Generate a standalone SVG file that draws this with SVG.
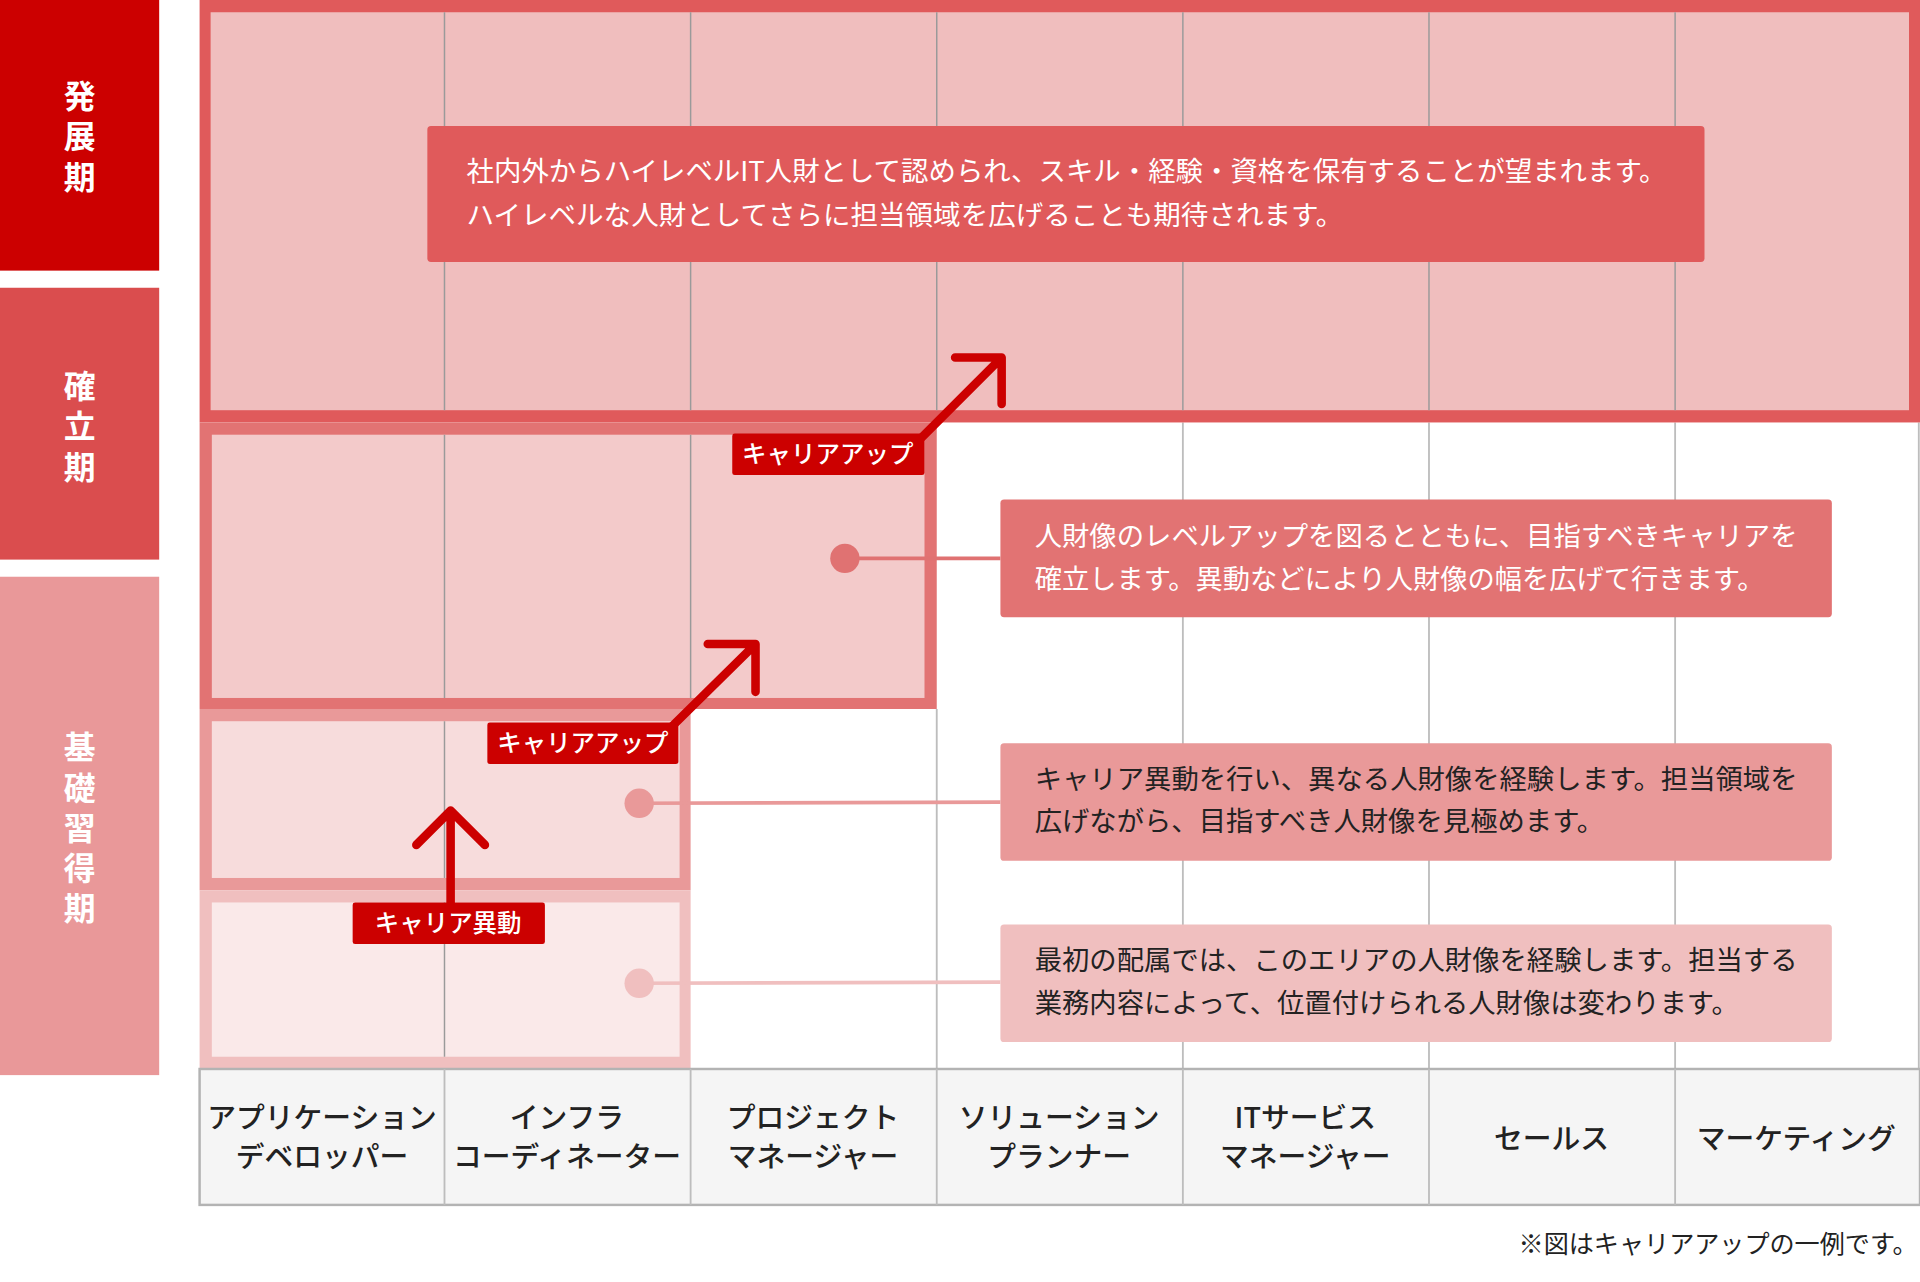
<svg xmlns="http://www.w3.org/2000/svg" width="1920" height="1282" viewBox="0 0 1920 1282">
<style>
text{font-family:"Noto Sans CJK JP","Noto Sans",sans-serif}
.v{fill:#fff;font-size:26px;font-weight:700;text-anchor:middle}
.g{stroke:#9a9a9a;stroke-width:1.2}
.gw{stroke:#bdbdbd;stroke-width:1.5}
.t{font-size:22px}
.h{font-size:23.5px;fill:#222;text-anchor:middle;font-weight:500}
.lab{fill:#cc0000}
.lt{fill:#fff;font-size:20px;font-weight:500;text-anchor:middle}
.ar{fill:none;stroke:#cc0000;stroke-width:7;stroke-linecap:round;stroke-linejoin:round}
</style>
<rect width="1920" height="1282" fill="#fff"/>
<g transform="scale(1.2245)">
<g id="phases">
<rect x="0" y="0" width="130" height="221" fill="#cc0000"/>
<text class="v" x="65" y="88">発</text><text class="v" x="65" y="121">展</text><text class="v" x="65" y="154">期</text>
<rect x="0" y="235" width="130" height="222" fill="#da4d4e"/>
<text class="v" x="65" y="325">確</text><text class="v" x="65" y="358">立</text><text class="v" x="65" y="391">期</text>
<rect x="0" y="471" width="130" height="407" fill="#e99899"/>
<text class="v" x="65" y="620">基</text><text class="v" x="65" y="653">礎</text><text class="v" x="65" y="686">習</text><text class="v" x="65" y="719">得</text><text class="v" x="65" y="751">期</text>
</g>
<g id="grid-white">
<line class="gw" x1="966" y1="345" x2="966" y2="873"/><line class="gw" x1="1167" y1="345" x2="1167" y2="873"/><line class="gw" x1="1368" y1="345" x2="1368" y2="873"/><line class="gw" x1="1567" y1="345" x2="1567" y2="873"/>
<line class="gw" x1="765" y1="579" x2="765" y2="873"/>
</g>
<g id="block-top">
<rect x="163" y="0" width="1405" height="345" fill="#e05a5b"/>
<rect x="172" y="10" width="1387" height="325" fill="#f0bebe"/>
</g>
<g id="block-mid">
<rect x="163" y="345" width="602" height="234" fill="#e27373"/>
<rect x="173" y="355" width="582" height="215" fill="#f3caca"/>
</g>
<g id="block-b2">
<rect x="163" y="579" width="401" height="148" fill="#e99999"/>
<rect x="173" y="589" width="382" height="128" fill="#f7dcdc"/>
</g>
<g id="block-b1">
<rect x="163" y="727" width="401" height="146" fill="#f0bfbf"/>
<rect x="173" y="737" width="382" height="126" fill="#fae9e9"/>
</g>
<g id="grid-in">
<line class="g" x1="363" y1="10" x2="363" y2="335"/><line class="g" x1="564" y1="10" x2="564" y2="335"/><line class="g" x1="765" y1="10" x2="765" y2="335"/><line class="g" x1="966" y1="10" x2="966" y2="335"/><line class="g" x1="1167" y1="10" x2="1167" y2="335"/><line class="g" x1="1368" y1="10" x2="1368" y2="335"/>
<line class="g" x1="363" y1="355" x2="363" y2="570"/><line class="g" x1="564" y1="355" x2="564" y2="570"/>
<line class="g" x1="363" y1="589" x2="363" y2="717"/><line class="g" x1="363" y1="737" x2="363" y2="863"/>
</g>
<g id="header">
<rect x="163" y="873" width="1405" height="111" fill="#f5f5f5" stroke="#b3b3b3" stroke-width="2"/>
<line class="gw" x1="363" y1="873" x2="363" y2="984"/><line class="gw" x1="564" y1="873" x2="564" y2="984"/><line class="gw" x1="765" y1="873" x2="765" y2="984"/><line class="gw" x1="966" y1="873" x2="966" y2="984"/><line class="gw" x1="1167" y1="873" x2="1167" y2="984"/><line class="gw" x1="1368" y1="873" x2="1368" y2="984"/>
<text class="h" x="263" y="921">アプリケーション</text><text class="h" x="263" y="953">デベロッパー</text>
<text class="h" x="463" y="921">インフラ</text><text class="h" x="463" y="953">コーディネーター</text>
<text class="h" x="664" y="921">プロジェクト</text><text class="h" x="664" y="953">マネージャー</text>
<text class="h" x="865" y="921">ソリューション</text><text class="h" x="865" y="953">プランナー</text>
<text class="h" x="1066" y="921">ITサービス</text><text class="h" x="1066" y="953">マネージャー</text>
<text class="h" x="1267" y="938">セールス</text>
<text class="h" x="1467" y="938">マーケティング</text>
</g>
<g id="connectors">
<line x1="690" y1="456" x2="817" y2="456" stroke="#e07272" stroke-width="3"/><circle cx="690" cy="456" r="12" fill="#e07272"/>
<line x1="522" y1="656" x2="817" y2="655" stroke="#e99999" stroke-width="3"/><circle cx="522" cy="656" r="12" fill="#e99999"/>
<line x1="522" y1="803" x2="817" y2="802" stroke="#f0bfbf" stroke-width="3"/><circle cx="522" cy="803" r="12" fill="#f0bfbf"/>
<path class="ar" d="M748 362L816 294M780 292H818V330"/>
<path class="ar" d="M546 596L615 528M578 526H617V565"/>
<path class="ar" d="M368 740V664M340 690L368 662L396 690"/>
</g>
<g id="labels">
<rect class="lab" x="598" y="354" width="157" height="34" rx="2"/><text class="lt" x="676" y="378">キャリアアップ</text>
<rect class="lab" x="398" y="590" width="156" height="34" rx="2"/><text class="lt" x="476" y="614">キャリアアップ</text>
<rect class="lab" x="288" y="737" width="157" height="34" rx="2"/><text class="lt" x="366" y="761">キャリア異動</text>
</g>
<g id="box1">
<rect x="349" y="103" width="1043" height="111" rx="3" fill="#e05a5b"/>
<text class="t" x="381" y="148" fill="#fff" textLength="980" lengthAdjust="spacingAndGlyphs">社内外からハイレベルIT人財として認められ、スキル・経験・資格を保有することが望まれます。</text>
<text class="t" x="381" y="184" fill="#fff" textLength="716" lengthAdjust="spacingAndGlyphs">ハイレベルな人財としてさらに担当領域を広げることも期待されます。</text>
</g>
<g id="box2">
<rect x="817" y="408" width="679" height="96" rx="3" fill="#e27373"/>
<text class="t" x="845" y="446" fill="#fff" textLength="623" lengthAdjust="spacingAndGlyphs">人財像のレベルアップを図るとともに、目指すべきキャリアを</text>
<text class="t" x="845" y="481" fill="#fff" textLength="596" lengthAdjust="spacingAndGlyphs">確立します。異動などにより人財像の幅を広げて行きます。</text>
</g>
<g id="box3">
<rect x="817" y="607" width="679" height="96" rx="3" fill="#e99999"/>
<text class="t" x="845" y="644" fill="#222" textLength="623" lengthAdjust="spacingAndGlyphs">キャリア異動を行い、異なる人財像を経験します。担当領域を</text>
<text class="t" x="845" y="679" fill="#222" textLength="465" lengthAdjust="spacingAndGlyphs">広げながら、目指すべき人財像を見極めます。</text>
</g>
<g id="box4">
<rect x="817" y="755" width="679" height="96" rx="3" fill="#f0bfbf"/>
<text class="t" x="845" y="792" fill="#222" textLength="623" lengthAdjust="spacingAndGlyphs">最初の配属では、このエリアの人財像を経験します。担当する</text>
<text class="t" x="845" y="827" fill="#222" textLength="575" lengthAdjust="spacingAndGlyphs">業務内容によって、位置付けられる人財像は変わります。</text>
</g>
<text x="1566" y="1023" font-size="20.5" fill="#222" text-anchor="end">※図はキャリアアップの一例です。</text>
</g>
</svg>
